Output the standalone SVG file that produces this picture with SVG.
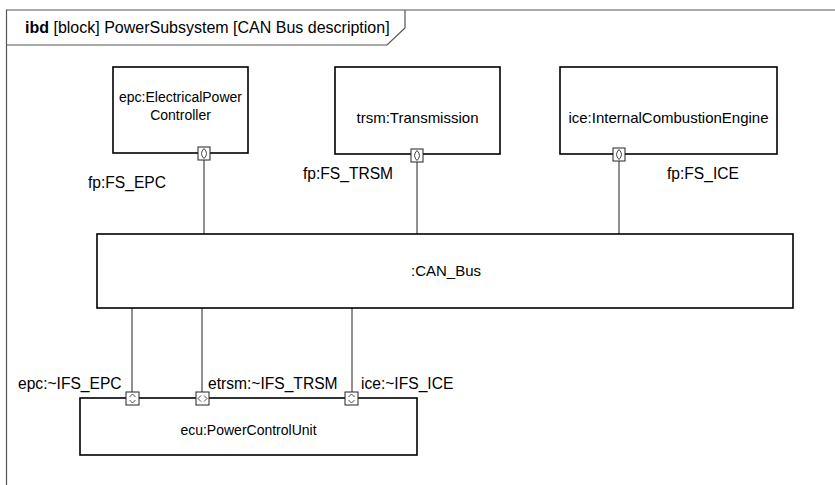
<svg xmlns="http://www.w3.org/2000/svg" width="835" height="485" viewBox="0 0 835 485">
<style>
text{font-family:"Liberation Sans",Arial,sans-serif;font-size:14px;fill:#000}
.lbl{font-size:15.6px}
.nm{font-size:15px}
.blk{fill:#fff;stroke:#000;stroke-width:1.6}
.frm{fill:none;stroke:#555;stroke-width:1.2}
.con{fill:none;stroke:#222;stroke-width:1}
.port{fill:#fff;stroke:#222;stroke-width:1}
.sym{fill:none;stroke:#333;stroke-width:0.9}
.c{text-anchor:middle}
</style>
<rect width="835" height="485" fill="#fff"/>
<g id="frame">
<path class="frm" d="M6.5,490 L6.5,10 L840,10"/>
<path class="frm" d="M6.5,45 L387,45 L405,28 L405,10"/>
<text x="25" y="33" style="font-size:16px"><tspan font-weight="bold">ibd</tspan> [block] PowerSubsystem [CAN Bus description]</text>
</g>
<g id="connectors">
<line class="con" x1="204" y1="160" x2="204" y2="234"/>
<line class="con" x1="417" y1="162" x2="417" y2="234"/>
<line class="con" x1="619" y1="161" x2="619" y2="234"/>
<line class="con" x1="132" y1="308" x2="132" y2="392"/>
<line class="con" x1="202" y1="308" x2="202" y2="392"/>
<path class="con" d="M357,305 L352,305 L352,392"/>
</g>
<g id="epc">
<rect class="blk" x="113" y="67" width="135" height="86"/>
<text class="c" x="180.5" y="102">epc:ElectricalPower</text>
<text class="c" x="180.5" y="120">Controller</text>
<rect class="port" x="198" y="147" width="12" height="13"/>
<path class="sym" d="M204,148.5 Q209,153.5 204,158.5 Q199,153.5 204,148.5Z"/>
<text class="lbl" x="88" y="188">fp:FS_EPC</text>
</g>
<g id="trsm">
<rect class="blk" x="335" y="67" width="165" height="87"/>
<text class="c nm" x="417.5" y="123">trsm:Transmission</text>
<rect class="port" x="411" y="149" width="12" height="13"/>
<path class="sym" d="M417,150.5 Q422,155.5 417,160.5 Q412,155.5 417,150.5Z"/>
<text class="lbl" x="303" y="179">fp:FS_TRSM</text>
</g>
<g id="ice">
<rect class="blk" x="560" y="67" width="217" height="87"/>
<text class="c nm" x="668.5" y="123">ice:InternalCombustionEngine</text>
<rect class="port" x="613" y="148" width="12" height="13"/>
<path class="sym" d="M619,149.5 Q624,154.5 619,159.5 Q614,154.5 619,149.5Z"/>
<text class="lbl" x="667" y="179">fp:FS_ICE</text>
</g>
<g id="canbus">
<rect class="blk" x="97" y="234" width="696" height="74"/>
<text class="c nm" x="446" y="276">:CAN_Bus</text>
</g>
<g id="ecu">
<rect class="blk" x="80" y="398" width="337" height="57"/>
<text class="c" x="248.5" y="435">ecu:PowerControlUnit</text>
<rect class="port" x="126" y="392" width="13" height="13"/>
<path class="sym" d="M129.5,397 L132.5,394 L135.5,397 M129.5,400 L132.5,403 L135.5,400"/>
<rect class="port" x="196" y="392" width="13" height="13"/>
<path class="sym" d="M201,395.5 L198,398.5 L201,401.5 M204,395.5 L207,398.5 L204,401.5"/>
<rect class="port" x="345" y="392" width="13" height="13"/>
<path class="sym" d="M348.5,397 L351.5,394 L354.5,397 M348.5,400 L351.5,403 L354.5,400"/>
<text class="lbl" x="18" y="389">epc:~IFS_EPC</text>
<text class="lbl" x="208" y="389">etrsm:~IFS_TRSM</text>
<text class="lbl" x="361" y="389">ice:~IFS_ICE</text>
</g>
</svg>
